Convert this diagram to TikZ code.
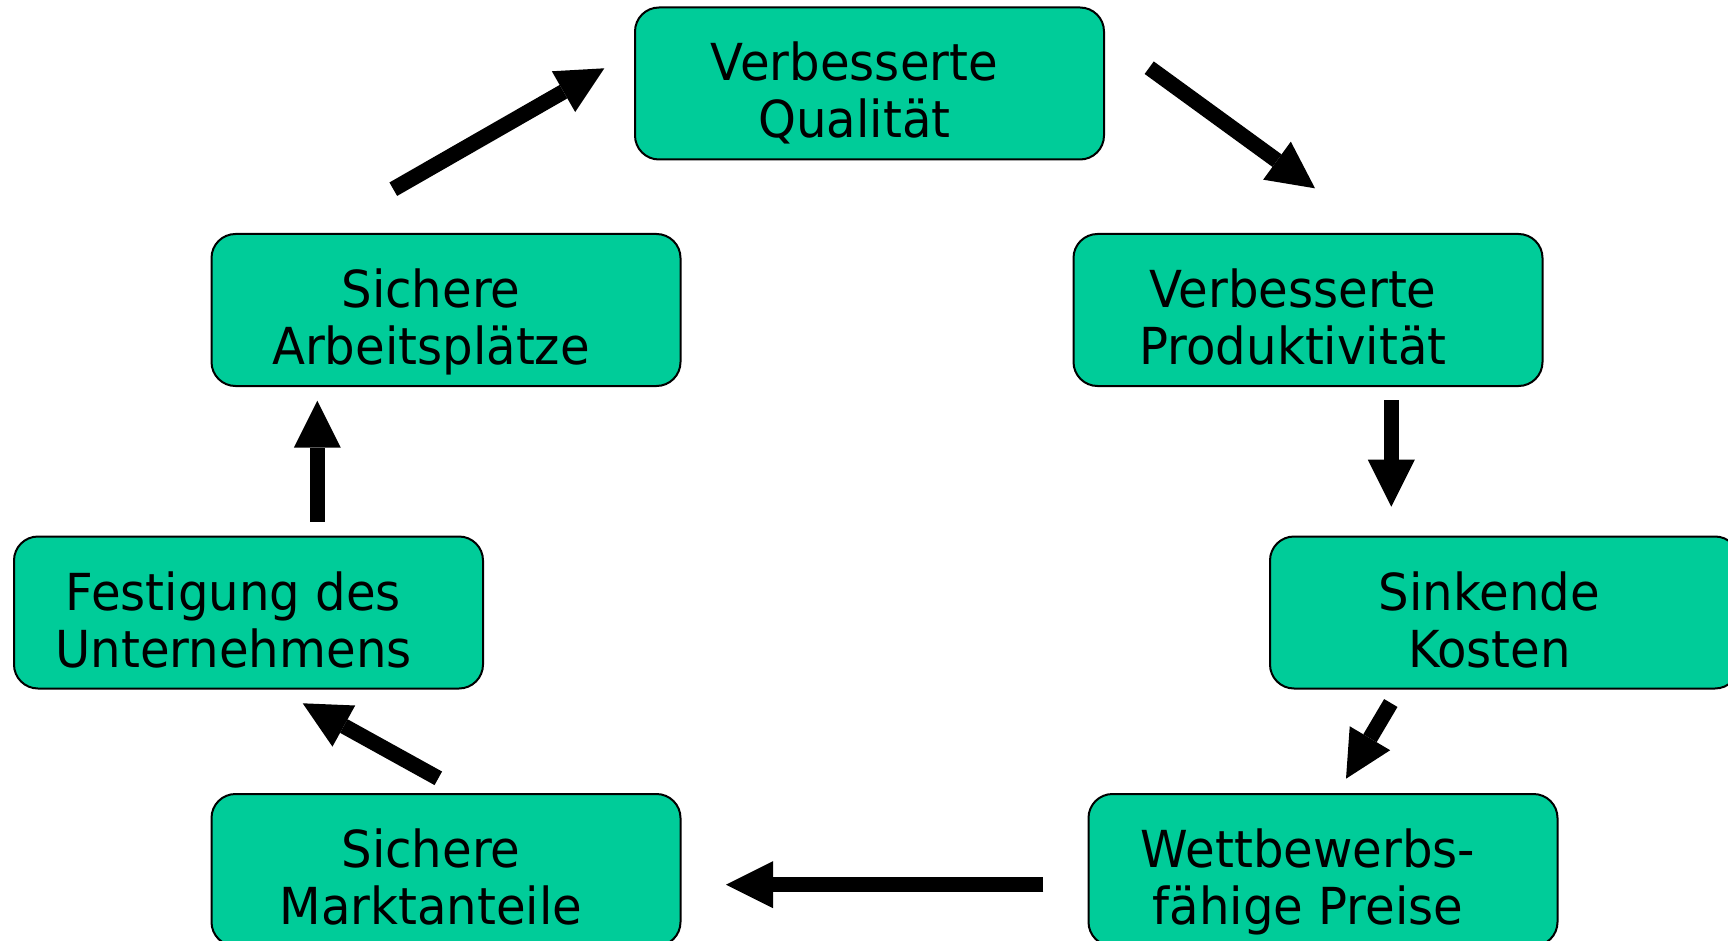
\documentclass[tikz,border=0pt]{standalone}
\usepackage{fontspec}
\setmainfont{DejaVu Sans}[FakeStretch=0.945]
\usetikzlibrary{arrows.meta}

\definecolor{boxgreen}{RGB}{0,204,153}

\tikzset{
  stage/.style={draw=black, line width=2pt, fill=boxgreen, rounded corners=24pt,
    minimum width=469pt, minimum height=152pt, inner sep=0pt},
  stagetext/.style={anchor=base, inner sep=0pt, font=\fontsize{51}{57}\selectfont},
  flow/.style={line width=15.5pt, draw=black,
    -{Triangle[length=47pt,width=47pt,line width=0pt]}}
}

\begin{document}
\begin{tikzpicture}[x=1pt,y=-1pt]
\useasboundingbox (0,0) rectangle (1728,941);
\clip (0,0) rectangle (1728,941);

% stages of the cycle
\node[stage] (qual) at (869.5,83.5) {};
\node[stage] (prod) at (1308,310) {};
\node[stage] (kost) at (1504.5,612.5) {};
\node[stage] (preis) at (1323,870) {};
\node[stage] (markt) at (446,870) {};
\node[stage] (fest) at (248.5,612.5) {};
\node[stage] (arb) at (446,310) {};

% labels: two lines each, baselines 57pt apart
\node[stagetext] (qual1) at (854.5,81) {Verbesserte};
\node[stagetext] (qual2) at (854.5,138) {Qualität};
\node[stagetext] (prod1) at (1293,307.5) {Verbesserte};
\node[stagetext] (prod2) at (1293,364.5) {Produktivität};
\node[stagetext] (kost1) at (1489.5,610) {Sinkende};
\node[stagetext] (kost2) at (1489.5,667) {Kosten};
\node[stagetext] (preis1) at (1308,867.5) {Wettbewerbs-};
\node[stagetext] (preis2) at (1308,924.5) {fähige Preise};
\node[stagetext] (markt1) at (431,867.5) {Sichere};
\node[stagetext] (markt2) at (431,924.5) {Marktanteile};
\node[stagetext] (fest1) at (233.5,610) {Festigung des};
\node[stagetext] (fest2) at (233.5,667) {Unternehmens};
\node[stagetext] (arb1) at (431,307.5) {Sichere};
\node[stagetext] (arb2) at (431,364.5) {Arbeitsplätze};

% arrow end points
\coordinate (a1s) at (1149.2,67.7);  \coordinate (a1e) at (1315,188.3);
\coordinate (a2s) at (1391.3,400);   \coordinate (a2e) at (1391.3,506.7);
\coordinate (a3s) at (1390.8,703);   \coordinate (a3e) at (1346,778.7);
\coordinate (a4s) at (1043.3,884.7); \coordinate (a4e) at (726,884.7);
\coordinate (a5s) at (438.3,778.3);  \coordinate (a5e) at (302.7,703.3);
\coordinate (a6s) at (317.3,521.7);  \coordinate (a6e) at (317.3,400.7);
\coordinate (a7s) at (393.3,189.2);  \coordinate (a7e) at (604.3,68.3);

% block arrows between the stages
\draw[flow] (a1s) -- (a1e);
\draw[flow] (a2s) -- (a2e);
\draw[flow] (a3s) -- (a3e);
\draw[flow] (a4s) -- (a4e);
\draw[flow] (a5s) -- (a5e);
\draw[flow] (a6s) -- (a6e);
\draw[flow] (a7s) -- (a7e);
\end{tikzpicture}
\end{document}
